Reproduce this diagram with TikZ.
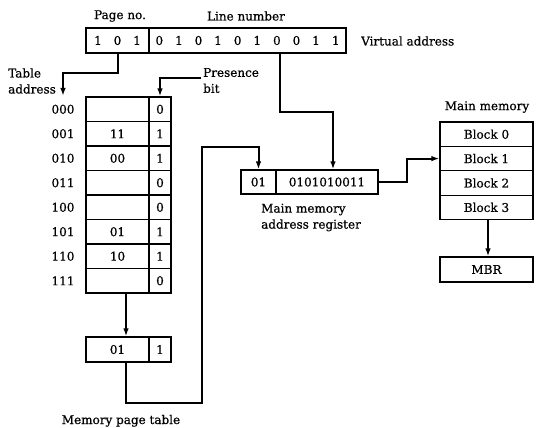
\documentclass[tikz,border=0pt]{standalone}
\usepackage{fontspec}
\setmainfont{DejaVu Serif}[UprightFeatures={FakeBold=0.6}]
\usetikzlibrary{arrows.meta,calc}
\begin{document}
\begin{tikzpicture}[x=1pt,y=-1pt,
  font=\fontsize{12}{16}\selectfont,
  cell/.style={draw,line width=1.2pt,inner sep=0pt,minimum height=#1,anchor=center},
  cell/.default=24.5pt,
  lbl/.style={inner sep=0pt},
  conn/.style={line width=2pt,-{Latex[length=8pt,width=5.5pt]}}]
\useasboundingbox (0,0) rectangle (536,428);
\newcommand\dg[1]{\makebox[19.6pt]{#1}}
% virtual address
\node[cell=25pt,minimum width=63pt] (vap) at (117.5,40.5) {\dg1\dg0\dg1};
\node[cell=25pt,minimum width=197pt] (val) at (247.5,40.5) {\dg0\dg1\dg0\dg1\dg0\dg1\dg0\dg0\dg1\dg1};
\node[lbl] (pn) at (120,16) {Page no.};
\node[lbl] (ln) at (246,16) {Line number};
\node[lbl,anchor=west] (vl) at (361,41) {Virtual address};
% page table
\foreach \i/\lab/\ent/\bit in {0/000//0,1/001/11/1,2/010/00/1,3/011//0,4/100//0,5/101/01/1,6/110/10/1,7/111//0}{
  \node[cell,minimum width=63pt] (r\i) at (117.5,{97+24.5*(\i+0.5)}) {\ent};
  \node[cell,minimum width=22pt] (b\i) at (160,{97+24.5*(\i+0.5)}) {\bit};
  \node[lbl] (l\i) at (63,{97+24.5*(\i+0.5)}) {\lab};
}
\node[lbl,align=left,anchor=west] (tal) at (8,81) {Table\\address};
\node[lbl,align=left,anchor=west] (pbl) at (203,80.5) {Presence\\bit};
% selected entry
\node[cell=25pt,minimum width=63pt] (bbe) at (117.5,349.5) {01};
\node[cell=25pt,minimum width=22pt] (bbb) at (160,349.5) {1};
\node[lbl,anchor=base] (mpt) at (121,424) {Memory page table};
% main memory address register
\node[cell=24pt,minimum width=35pt] (mm1) at (258.5,182) {01};
\node[cell=24pt,minimum width=102pt] (mm2) at (327,182) {0101010011};
\node[lbl,align=left,anchor=west] (mml) at (261,217.5) {Main memory\\address register};
% main memory
\node[lbl] (mml2) at (487,107) {Main memory};
\foreach \i in {0,1,2,3}{
  \node[cell=24.4pt,minimum width=93pt] (blk\i) at (486.5,{122+24.4*(\i+0.5)}) {Block \i};
}
\node[cell=25pt,minimum width=93pt] (mbr) at (486.5,269.5) {MBR};
% coordinates
\coordinate (taend) at (63,96);
\coordinate (pb) at (201,78);
\coordinate (tcol) at (126,0);
\coordinate (c1) at (202,403);
\coordinate (c2) at (202,146.5);
\coordinate (d1) at (280,112);
\coordinate (d2) at (333,112);
\coordinate (e1) at (407,0);
\coordinate (mcol) at (488,0);
% connectors
\draw[conn] (vap.south) -- ++(0,19) -| (taend);
\draw[conn] (pb) -| (b0.north);
\draw[conn] (r7.south -| tcol) -- (bbe.north -| tcol);
\draw[conn] (bbe.south -| tcol) |- (c1) -- (c2) -| (mm1.north);
\draw[conn] (val.south -| d1) -- (d1) -- (d2) -- (mm2.north -| d2);
\draw[conn] (mm2.east) -- (mm2.east -| e1) |- (blk1.west);
\draw[conn] (blk3.south -| mcol) -- (mbr.north -| mcol);
\end{tikzpicture}
\end{document}
